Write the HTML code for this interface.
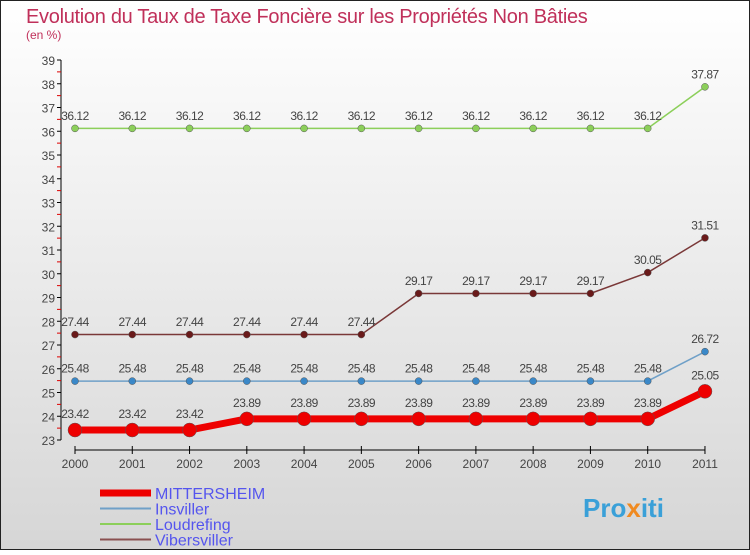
<!DOCTYPE html>
<html><head><meta charset="utf-8"><style>
body{margin:0;}
#c{width:750px;height:550px;position:relative;font-family:"Liberation Sans",sans-serif;}
</style></head><body>
<div id="c">
<svg id="s" width="750" height="550" xmlns="http://www.w3.org/2000/svg">
<defs><linearGradient id="bg" x1="0" y1="0" x2="0" y2="1"><stop offset="0" stop-color="#ffffff"/><stop offset="1" stop-color="#d6d6d6"/></linearGradient></defs>
<rect x="0.5" y="0.5" width="749" height="549" fill="url(#bg)" stroke="#222"/>
<text x="26" y="23" font-size="20" fill="#c0305a" letter-spacing="-0.3">Evolution du Taux de Taxe Foncière sur les Propriétés Non Bâties</text>
<text x="26" y="39" font-size="12" fill="#c0305a">(en %)</text>
<g id="axes"></g><g id="series"></g><g id="legend"></g>
<text x="583" y="517" font-size="26" font-weight="bold" fill="#3aa0d8">Pro<tspan fill="#f08a20">x</tspan>iti</text>
</svg></div>
<script>
const years=[2000,2001,2002,2003,2004,2005,2006,2007,2008,2009,2010,2011];
const yTicks=[23,24,25,26,27,28,29,30,31,32,33,34,35,36,37,38,39];
const mittersheim=[23.42,23.42,23.42,23.89,23.89,23.89,23.89,23.89,23.89,23.89,23.89,25.05];
const insviller=[25.48,25.48,25.48,25.48,25.48,25.48,25.48,25.48,25.48,25.48,25.48,26.72];
const loudrefing=[36.12,36.12,36.12,36.12,36.12,36.12,36.12,36.12,36.12,36.12,36.12,37.87];
const vibersviller=[27.44,27.44,27.44,27.44,27.44,27.44,29.17,29.17,29.17,29.17,30.05,31.51];
const NS="http://www.w3.org/2000/svg";
const x=i=>75+i*57.27;
const y=v=>440-(v-23)*23.75;
function mk(p,t,a){const e=document.createElementNS(NS,t);for(const k in a)e.setAttribute(k,a[k]);p.appendChild(e);return e;}
const ax=document.getElementById('axes');
let l=mk(ax,'line',{x1:61,y1:60,x2:61,y2:440,stroke:'#000'});


l=mk(ax,'line',{x1:75,y1:450,x2:705,y2:450,stroke:'#000'});


yTicks.forEach(v=>{mk(ax,'line',{x1:57,y1:y(v),x2:61,y2:y(v),stroke:'#000'});
 if(v<39)mk(ax,'line',{x1:57,y1:y(v+0.5),x2:61,y2:y(v+0.5),stroke:'#d00'});
 const t=mk(ax,'text',{x:55,y:y(v)+5,'font-size':12,fill:'#444','text-anchor':'end'});t.textContent=v;
 
 });
years.forEach((yr,i)=>{mk(ax,'line',{x1:x(i),y1:446,x2:x(i),y2:454,stroke:'#000'});
 const t=mk(ax,'text',{x:x(i),y:468,'font-size':12,fill:'#444','text-anchor':'middle'});t.textContent=yr;
 
 });
const sg=document.getElementById('series');
function series(name,vals,color,dot,w,r){
 const g=mk(sg,'g',{});
 
 
 mk(g,'polyline',{points:vals.map((v,i)=>x(i)+','+y(v)).join(' '),fill:'none',stroke:color,'stroke-width':w});
 vals.forEach((v,i)=>{const c=mk(g,'circle',{cx:x(i),cy:y(v),r:r,fill:dot,stroke:'#555','stroke-width':0.5});
  
  
  const t=mk(g,'text',{x:x(i),y:y(v)-r-5,'font-size':12,fill:'#444','text-anchor':'middle','letter-spacing':'-0.5'});
  t.textContent=String(v);
  
  });
}
series('loudrefing',loudrefing,'#8ccf5a','#8ccf5a',1.5,3.5);
series('vibersviller',vibersviller,'#7a3838','#6a1a1a',1.5,3.5);
series('insviller',insviller,'#6fa0c8','#3a88c8',1.5,3.5);
series('mittersheim',mittersheim,'#ee0000','#ee0000',7,7);
const lg=document.getElementById('legend');
[['MITTERSHEIM','#ee0000',7],['Insviller','#6fa0c8',2],['Loudrefing','#8ccf5a',2],['Vibersviller','#8a5050',2]].forEach((e,i)=>{
 const g=mk(lg,'g',{});
 
 
 const yy=493+i*15.5;
 mk(g,'line',{x1:100,y1:yy,x2:151,y2:yy,stroke:e[1],'stroke-width':e[2]});
 mk(g,'text',{x:155,y:yy+6,'font-size':16,fill:'#5555ee'}).textContent=e[0];
});
</script>
</body></html>
